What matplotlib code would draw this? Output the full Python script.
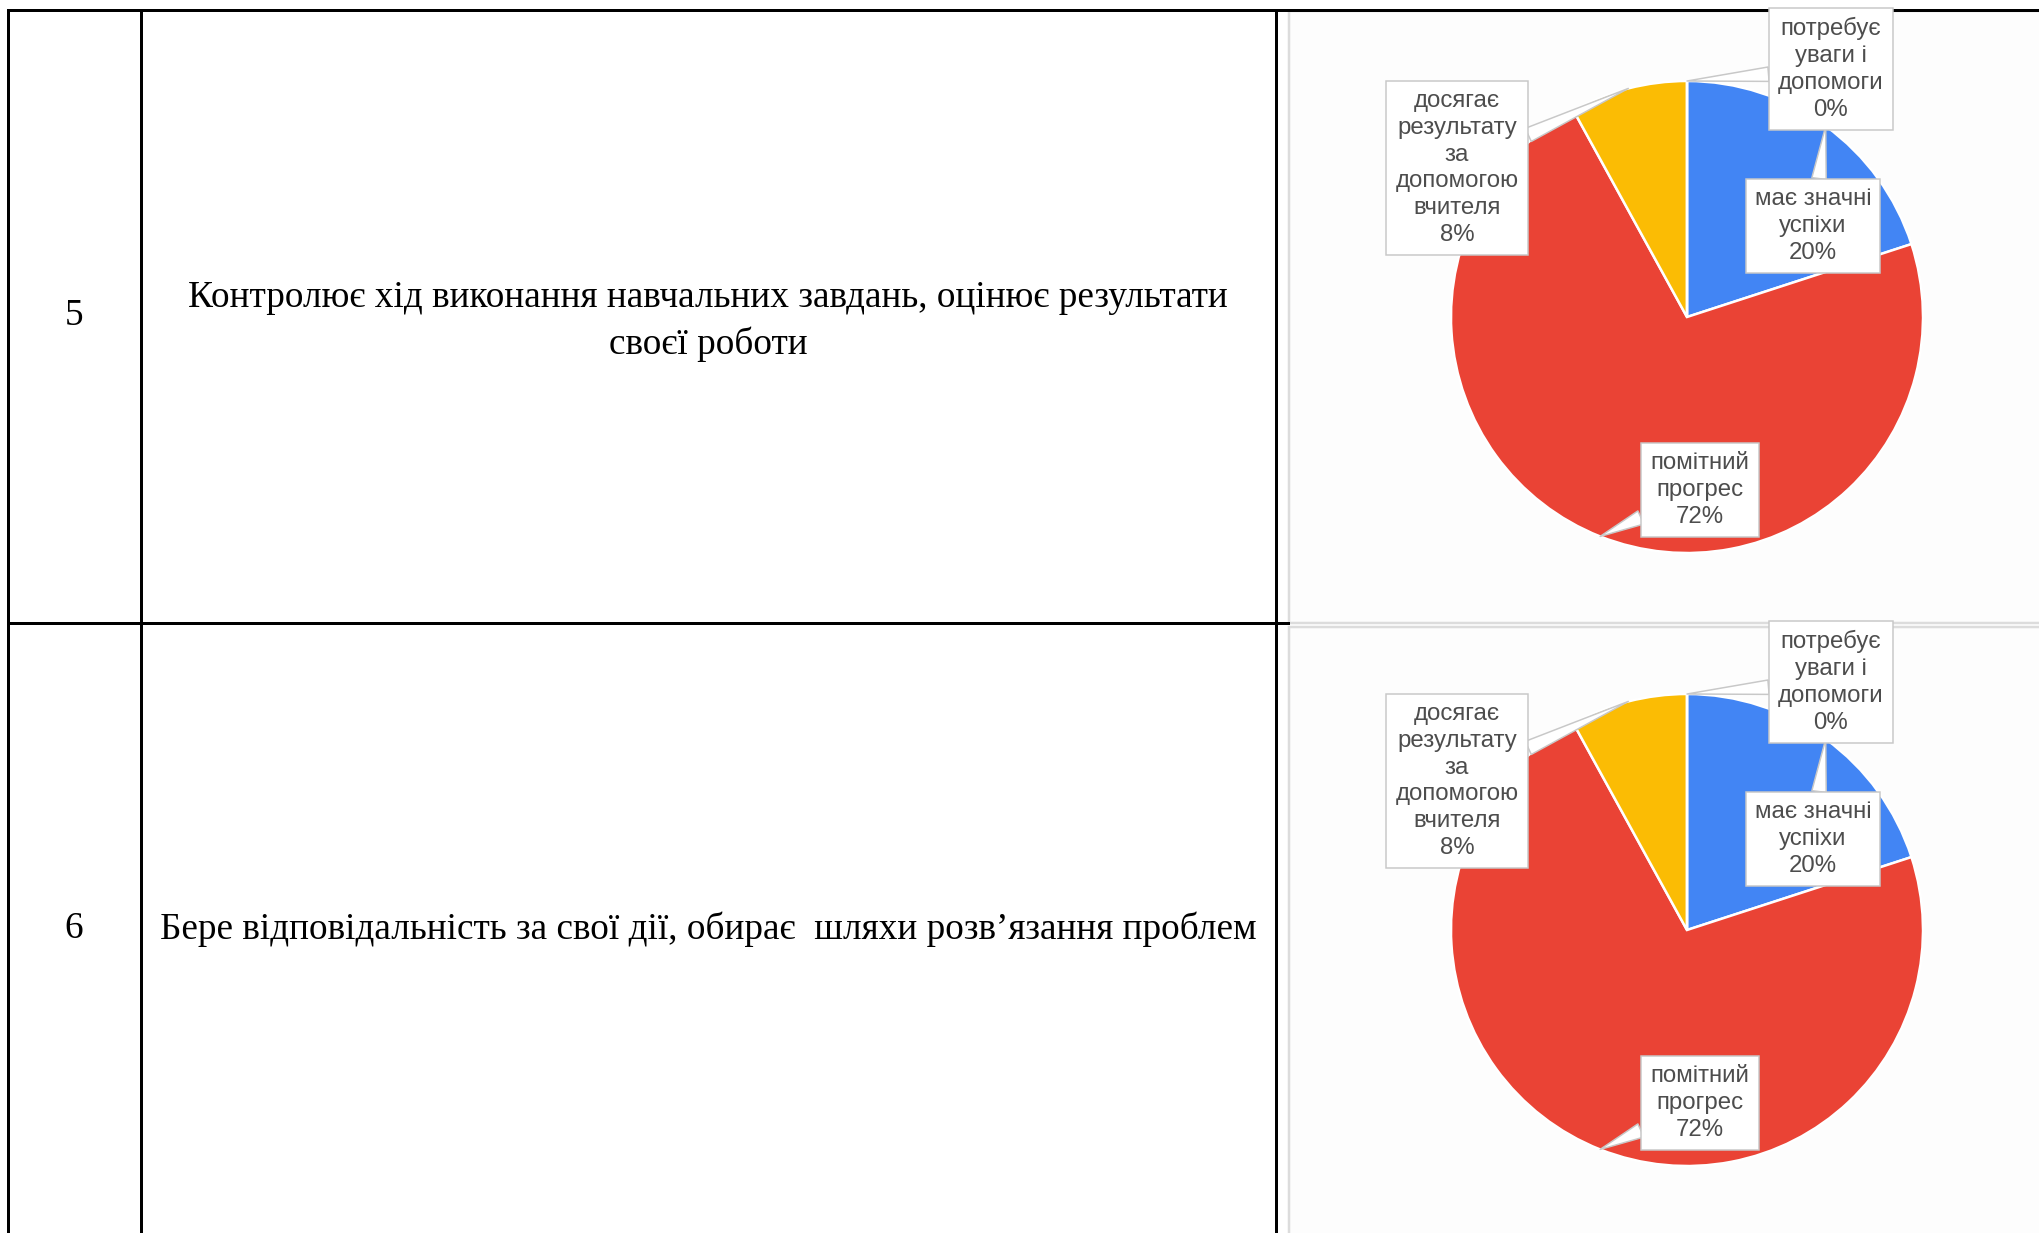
import matplotlib.pyplot as plt
from matplotlib.patches import Rectangle
import numpy as np

# дані таблиці
row_numbers = ['5', '6']
row_texts = [
    'Контролює хід виконання навчальних завдань, оцінює результати\nсвоєї роботи',
    'Бере відповідальність за свої дії, обирає  шляхи розв’язання проблем',
]

# дані діаграм
categories = ['має значні\nуспіхи', 'помітний\nпрогрес',
              'досягає\nрезультату\nза\nдопомогою\nвчителя',
              'потребує\nуваги і\nдопомоги']
values_row5 = [20, 72, 8, 0]
values_row6 = [20, 72, 8, 0]
colors = ['#4285F4', '#EA4335', '#FBBC04', '#34A853']

W, H = 2040, 1233
PX = 0.72  # один піксель у пунктах (dpi=100)

fig = plt.figure(figsize=(W / 100, H / 100), dpi=100)
ax = fig.add_axes([0, 0, 1, 1])

# рамки діаграм (як вставлені картинки)
ax.add_patch(Rectangle((1289, 11), 800, 612, fc='#fdfdfd', ec='#dcdcdc', lw=2.5 * PX, zorder=0))
ax.add_patch(Rectangle((1289, 627), 800, 660, fc='#fdfdfd', ec='#dcdcdc', lw=2.5 * PX, zorder=0))

# лінії таблиці
line_kw = dict(color='black', lw=3 * PX, solid_capstyle='projecting', zorder=5)
ax.plot([8, W], [10, 10], **line_kw)
ax.plot([8, 8], [10, H + 5], **line_kw)
ax.plot([141, 141], [10, H + 5], **line_kw)
ax.plot([1276, 1276], [10, H + 5], **line_kw)
ax.plot([8, 1288], [623, 623], **line_kw)

# текст у клітинках
row_y = [(316, 321), (929, 929)]
for num, txt, (yn, yt) in zip(row_numbers, row_texts, row_y):
    ax.text(74, yn, num, ha='center', va='center', fontsize=26.8,
            family='Liberation Serif', color='black')
    ax.text(708, yt, txt, ha='center', va='center', fontsize=26.8,
            family='Liberation Serif', color='black', linespacing=1.42)

# кругові діаграми
pie_centers = [(1687, 317), (1687, 930)]
R = 236
label_offsets = [(126, -91), (13, 173), (-230, -149), (144, -248)]

for vals, (cx, cy) in zip([values_row5, values_row6], pie_centers):
    wedges, _ = ax.pie(vals, colors=colors, startangle=-90, counterclock=True,
                       center=(cx, cy), radius=R,
                       wedgeprops=dict(edgecolor='white', linewidth=2.5 * PX))
    total = sum(vals)
    for w, lab, v, (dx, dy) in zip(wedges, categories, vals, label_offsets):
        ang = np.deg2rad((w.theta1 + w.theta2) / 2)
        tip = (cx + R * np.cos(ang), cy + R * np.sin(ang))
        ax.annotate(f'{lab}\n{v / total * 100:.0f}%', xy=tip, xytext=(cx + dx, cy + dy),
                    ha='center', va='center', fontsize=17.3, color='#4d4d4d',
                    family='Liberation Sans', linespacing=1.28, zorder=6,
                    bbox=dict(boxstyle='square,pad=0.38', fc='white', ec='#c8c8c8', lw=1.5 * PX),
                    arrowprops=dict(arrowstyle='wedge,tail_width=0.6,shrink_factor=0.5',
                                    fc='white', ec='#c8c8c8', lw=1.5 * PX,
                                    shrinkA=0, shrinkB=0))

ax.set_xlim(0, W)
ax.set_ylim(H, 0)
ax.set_aspect('auto')
ax.axis('off')

fig.savefig('out.png', dpi=100, facecolor='white')
